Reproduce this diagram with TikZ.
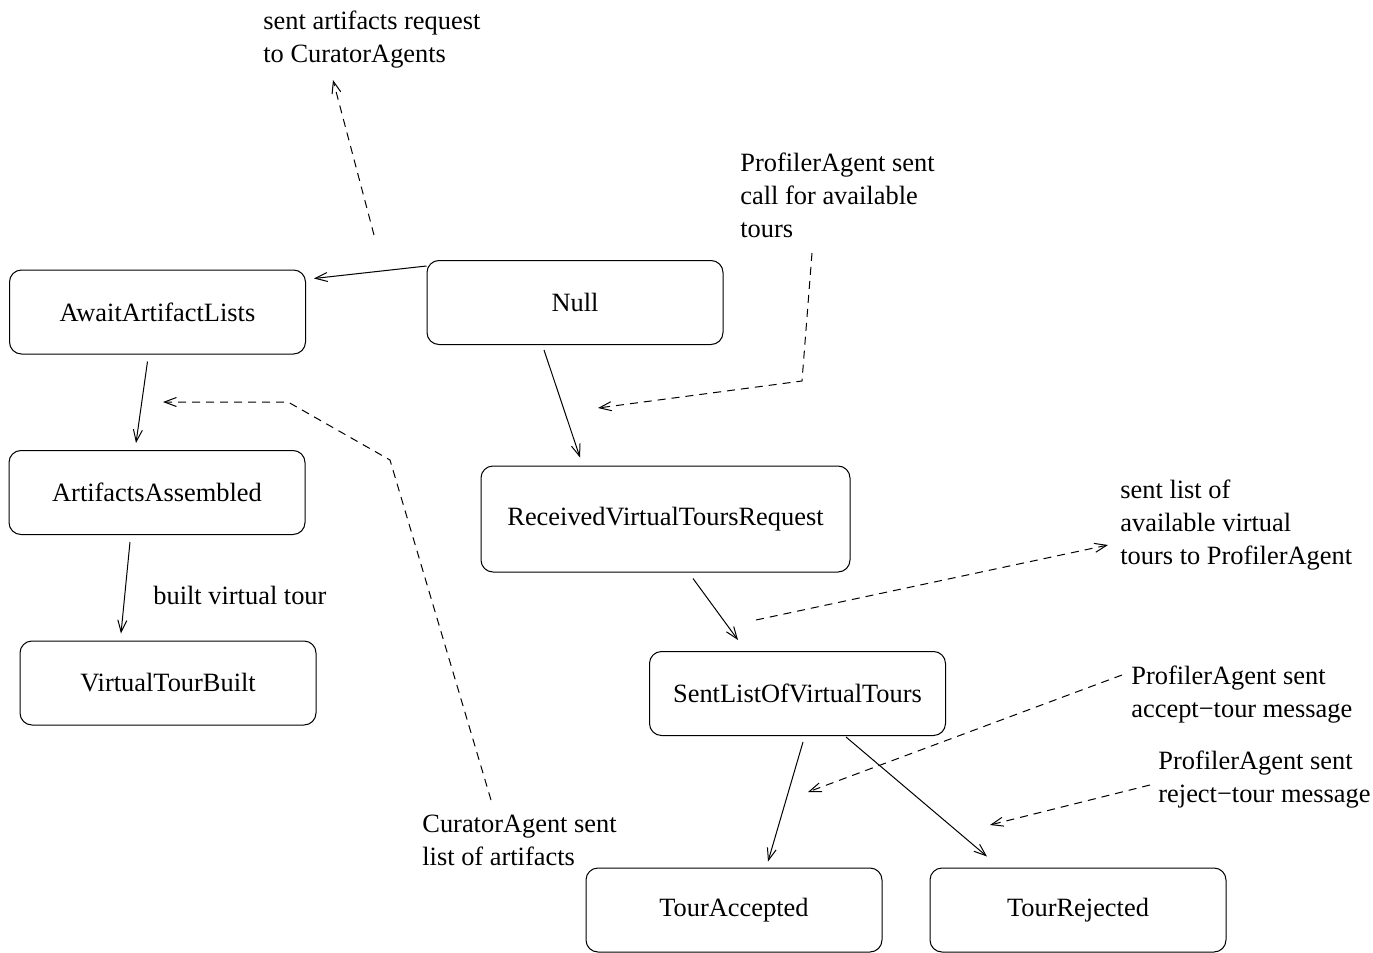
\documentclass[tikz,border=0pt]{standalone}
\usepackage{fontspec}
\setmainfont{Liberation Serif}
\usepackage{tikz}
\usetikzlibrary{arrows.meta, positioning, calc}

\tikzset{
	state/.style={draw, rounded corners=6pt, line width=0.5pt, minimum width=148pt, minimum height=42pt, inner sep=0pt},
	note/.style={align=left, inner sep=0pt, anchor=base west},
	trans/.style={line width=0.5pt, -{Straight Barb[length=6pt,width=4.5pt]}},
	msg/.style={trans, dash pattern=on 4pt off 3pt}
}

\begin{document}
\begin{tikzpicture}[x=0.5pt, y=-0.5pt, font=\fontsize{13.2pt}{16.5pt}\selectfont]
	\useasboundingbox (0,0) rectangle (1373,953);

	% states
	\node[state] (await) at (157.5,312) {AwaitArtifactLists};
	\node[state] (null) at (575,302.5) {Null};
	\node[state] (assembled) at (157,492.5) {ArtifactsAssembled};
	\node[state] (built) at (168,683) {VirtualTourBuilt};
	\node[state, minimum width=184.5pt, minimum height=53pt] (received) at (665.5,519) {ReceivedVirtualToursRequest};
	\node[state] (sentlist) at (797.5,693.5) {SentListOfVirtualTours};
	\node[state] (accepted) at (734,910) {TourAccepted};
	\node[state] (rejected) at (1078,910) {TourRejected};

	% messages (placed at the baseline of their last line)
	\node[note] (artreq) at (263,62) {sent artifacts request\\to CuratorAgents};
	\node[note] (callnote) at (740,237) {ProfilerAgent sent\\call for available\\tours};
	\node[note] (builtnote) at (153,604) {built virtual tour};
	\node[note] (curnote) at (422,865) {CuratorAgent sent\\list of artifacts};
	\node[note] (listnote) at (1120,564) {sent list of\\available virtual\\tours to ProfilerAgent};
	\node[note] (accnote) at (1131,717) {ProfilerAgent sent\\accept\char"2212 tour message};
	\node[note] (rejnote) at (1158,802) {ProfilerAgent sent\\reject\char"2212 tour message};

	\coordinate (artreq-s) at (374,235);
	\coordinate (artreq-e) at (333,80);
	\coordinate (call-s) at (812,253);
	\coordinate (call-m) at (802,381);
	\coordinate (call-e) at (598,408);
	\coordinate (cur-s) at (491,800);
	\coordinate (cur-a) at (390,460);
	\coordinate (cur-b) at (288,402);
	\coordinate (cur-e) at (163,402);
	\coordinate (list-s) at (756,620);
	\coordinate (list-e) at (1108,545);
	\coordinate (acc-s) at (1122,675);
	\coordinate (acc-e) at (808,792);
	\coordinate (rej-s) at (1150,785);
	\coordinate (rej-e) at (990,825);

	% transitions
	\draw[trans] ($(null.north west)+(0,6)$) -- ($(await.north east)+(8,9)$);
	\draw[trans] ($(await.south)+(-10,7)$) -- ($(assembled.north)+(-21,-7)$);
	\draw[trans] ($(assembled.south)+(-27,7)$) -- ($(built.north)+(-47,-7)$);
	\draw[trans] ($(null.south)+(-31,5)$) -- ($(received.north)+(-85.5,-8)$);
	\draw[trans] ($(received.south)+(27.5,6)$) -- ($(sentlist.north)+(-59.5,-11)$);
	\draw[trans] ($(sentlist.south)+(5.5,6)$) -- ($(accepted.north)+(34,-6)$);
	\draw[trans] ($(sentlist.south)+(48.5,1)$) -- ($(rejected.north)+(-91,-11)$);

	\draw[msg] (artreq-s) -- (artreq-e);
	\draw[msg] (call-s) -- (call-m) -- (call-e);
	\draw[msg] (cur-s) -- (cur-a) -- (cur-b) -- (cur-e);
	\draw[msg] (list-s) -- (list-e);
	\draw[msg] (acc-s) -- (acc-e);
	\draw[msg] (rej-s) -- (rej-e);
\end{tikzpicture}
\end{document}
